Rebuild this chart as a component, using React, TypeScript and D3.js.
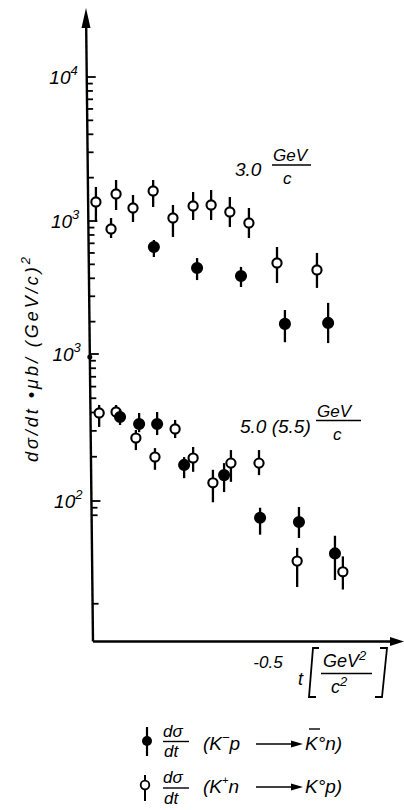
import React from 'react';
import * as d3 from 'd3';

const W = 404;
const H = 810;

// 3.0 GeV/c, read against the upper decade labels (10^4, 10^3)
// K- p -> K0bar n (filled)
const kmp30 = [
  { t: -0.183, v: 660, lo: 562, hi: 738 },
  { t: -0.303, v: 472, lo: 389, hi: 553 },
  { t: -0.425, v: 415, lo: 348, hi: 480 },
  { t: -0.547, v: 193, lo: 144, hi: 241 },
  { t: -0.667, v: 196, lo: 142, hi: 270 },
];
// K+ n -> K0 p (open)
const kpn30 = [
  { t: -0.022, v: 1355, lo: 984, hi: 1722 },
  { t: -0.064, v: 880, lo: 762, hi: 1049 },
  { t: -0.078, v: 1540, lo: 1192, hi: 1927 },
  { t: -0.125, v: 1231, lo: 984, hi: 1516 },
  { t: -0.181, v: 1616, lo: 1251, hi: 1927 },
  { t: -0.236, v: 1049, lo: 774, hi: 1292 },
  { t: -0.292, v: 1271, lo: 1016, hi: 1590 },
  { t: -0.342, v: 1292, lo: 1016, hi: 1642 },
  { t: -0.394, v: 1155, lo: 908, hi: 1468 },
  { t: -0.447, v: 969, lo: 762, hi: 1231 },
  { t: -0.525, v: 511, lo: 371, hi: 660 },
  { t: -0.636, v: 457, lo: 343, hi: 600 },
];

// 5.0 (5.5) GeV/c, read against the lower decade labels (10^3, 10^2)
const kmp50 = [
  { t: -0.089, v: 373, lo: 329, hi: 416 },
  { t: -0.142, v: 334, lo: 294, hi: 397 },
  { t: -0.192, v: 334, lo: 281, hi: 403 },
  { t: -0.267, v: 176, lo: 143, hi: 199 },
  { t: -0.378, v: 150, lo: 115, hi: 181 },
  { t: -0.478, v: 77, lo: 59, hi: 90 },
  { t: -0.586, v: 72, lo: 56, hi: 91 },
  { t: -0.686, v: 44, lo: 29, hi: 58 },
];
const kpn50 = [
  { t: -0.031, v: 397, lo: 319, hi: 450 },
  { t: -0.078, v: 403, lo: 356, hi: 450 },
  { t: -0.133, v: 268, lo: 222, hi: 304 },
  { t: -0.186, v: 199, lo: 163, hi: 229 },
  { t: -0.242, v: 309, lo: 268, hi: 356 },
  { t: -0.292, v: 196, lo: 158, hi: 233 },
  { t: -0.347, v: 133, lo: 98, hi: 163 },
  { t: -0.397, v: 181, lo: 135, hi: 222 },
  { t: -0.475, v: 181, lo: 150, hi: 222 },
  { t: -0.581, v: 39, lo: 26, hi: 48 },
  { t: -0.708, v: 33, lo: 25, hi: 42 },
];

const upperTicks = [10000, 9000, 8000, 7000, 6000, 5000, 4000, 3000, 2000, 1000, 900, 800, 700, 600, 500, 400, 300, 200];
const lowerTicks = [1000, 900, 800, 700, 600, 500, 400, 300, 200, 100, 90, 80, 20];
const upperLabels = [{ v: 1e4, exp: '4' }, { v: 1e3, exp: '3' }];
const lowerLabels = [{ v: 1e3, exp: '3' }, { v: 1e2, exp: '2' }];
const xLabels = [-0.5];

const FONT = "'Liberation Sans', Arial, sans-serif";

export default function App() {
  const x = d3.scaleLinear().domain([0, -0.5]).range([88, 268]);
  const yUp = d3.scaleLog().domain([1e3, 1e4]).range([221, 77]);
  const yLo = d3.scaleLog().domain([1e2, 1e3]).range([501, 354]);
  // the scanned axis leans a little
  const axisX = d3.scaleLinear().domain([10, 642]).range([86, 93]);
  const xAxisY = 641.5;

  const isMajor = (v: number) => Math.abs(Math.log10(v) - Math.round(Math.log10(v))) < 1e-9;

  const tickLines = (ticks: number[], y: d3.ScaleLogarithmic<number, number>, key: string) =>
    ticks.map((v, i) => {
      const yy = y(v);
      const x0 = axisX(yy);
      return <line key={key + i} x1={x0} x2={x0 + (isMajor(v) ? 9 : 6)} y1={yy} y2={yy} stroke="#000" strokeWidth={1.8} />;
    });

  const tickLabels = (labels: { v: number; exp: string }[], y: d3.ScaleLogarithmic<number, number>, key: string) =>
    labels.map((d, i) => (
      <text key={key + i} x={axisX(y(d.v)) - 9} y={y(d.v) + 7} textAnchor="end" fontSize={19} fontStyle="italic">
        10<tspan fontSize={13} dy={-9}>{d.exp}</tspan>
      </text>
    ));

  const marks = (data: typeof kmp30, y: d3.ScaleLogarithmic<number, number>, filled: boolean, key: string) =>
    data.map((d, i) => (
      <g key={key + i}>
        <line x1={x(d.t)} x2={x(d.t)} y1={y(d.hi)} y2={y(d.lo)} stroke="#000" strokeWidth={2.3} />
        <circle cx={x(d.t)} cy={y(d.v)} r={filled ? 5 : 4.6} fill={filled ? '#000' : '#fff'} stroke="#000" strokeWidth={2.1} />
      </g>
    ));

  const legendArrow = (x1: number, x2: number, yy: number) => (
    <g>
      <line x1={x1} x2={x2 - 8} y1={yy} y2={yy} stroke="#000" strokeWidth={1.6} />
      <polygon points={`${x2},${yy} ${x2 - 12},${yy - 3.5} ${x2 - 12},${yy + 3.5}`} fill="#000" />
    </g>
  );

  return (
    <svg width={W} height={H} style={{ position: 'absolute', left: 0, top: 0, background: '#fff' }} fontFamily={FONT}>
      {/* y axis */}
      <line x1={axisX(24)} y1={24} x2={axisX(xAxisY)} y2={xAxisY} stroke="#000" strokeWidth={2.4} />
      <polygon points={`86,8 81.5,28 90.5,28`} fill="#000" />
      {tickLines(upperTicks, yUp, 'ut')}
      {tickLines(lowerTicks, yLo, 'lt')}
      <circle cx={axisX(yLo(1000))} cy={yLo(1000) + 3} r={2.5} fill="#000" />
      {tickLabels(upperLabels, yUp, 'ul')}
      {tickLabels(lowerLabels, yLo, 'll')}

      {/* x axis */}
      <line x1={axisX(xAxisY)} y1={xAxisY} x2={392} y2={xAxisY} stroke="#000" strokeWidth={2.4} />
      <polygon points={`404,${xAxisY} 390,${xAxisY - 4.5} 390,${xAxisY + 4.5}`} fill="#000" />
      {xLabels.map((v, i) => (
        <text key={'xl' + i} x={x(v)} y={668} textAnchor="middle" fontSize={17} fontStyle="italic">
          {v.toFixed(1)}
        </text>
      ))}

      {/* x title: t [GeV^2 / c^2] */}
      <text x={298} y={685} fontSize={18} fontStyle="italic">t</text>
      <path d="M319,648 L313,648 L309,697 L316,697" fill="none" stroke="#000" strokeWidth={1.8} />
      <path d="M380,648 L387,648 L382,697 L375,697" fill="none" stroke="#000" strokeWidth={1.8} />
      <text x={323} y={667} fontSize={18} fontStyle="italic">
        GeV<tspan fontSize={13} dy={-7}>2</tspan>
      </text>
      <line x1={321} x2={372} y1={673.5} y2={673.5} stroke="#000" strokeWidth={1.6} />
      <text x={331} y={693} fontSize={18} fontStyle="italic">
        c<tspan fontSize={13} dy={-7}>2</tspan>
      </text>

      {/* y title */}
      <text transform="translate(38,462) rotate(-90)" fontSize={18} fontStyle="italic" textLength={205} lengthAdjust="spacing">
        dσ/dt •μb/ (GeV/c)<tspan fontSize={13} dy={-8}>2</tspan>
      </text>

      {/* data */}
      {marks(kpn30, yUp, false, 'a')}
      {marks(kmp30, yUp, true, 'b')}
      {marks(kpn50, yLo, false, 'c')}
      {marks(kmp50, yLo, true, 'd')}

      {/* momentum annotations */}
      <text x={235} y={176} fontSize={19} fontStyle="italic">3.0</text>
      <text x={273} y={161} fontSize={17} fontStyle="italic">GeV</text>
      <line x1={272} x2={311} y1={165} y2={165} stroke="#000" strokeWidth={1.5} />
      <text x={283} y={184} fontSize={17} fontStyle="italic">c</text>

      <text x={240} y={433} fontSize={19} fontStyle="italic">5.0 (5.5)</text>
      <text x={317} y={417} fontSize={17} fontStyle="italic">GeV</text>
      <line x1={316} x2={361} y1={420.5} y2={420.5} stroke="#000" strokeWidth={1.5} />
      <text x={333} y={440} fontSize={17} fontStyle="italic">c</text>

      {/* legend */}
      <line x1={147} x2={147} y1={727} y2={756} stroke="#000" strokeWidth={2.2} />
      <circle cx={147} cy={741} r={5} fill="#000" />
      <text x={163} y={737} fontSize={17} fontStyle="italic">dσ</text>
      <line x1={163} x2={189} y1={741.5} y2={741.5} stroke="#000" strokeWidth={1.4} />
      <text x={164} y={757} fontSize={17} fontStyle="italic">dt</text>
      <text x={203} y={750} fontSize={19} fontStyle="italic">
        (K<tspan fontSize={13} dy={-8}>−</tspan><tspan dy={8}>p</tspan>
      </text>
      {legendArrow(256, 303, 744)}
      <line x1={309} x2={320} y1={729} y2={729} stroke="#000" strokeWidth={1.4} />
      <text x={305} y={750} fontSize={19} fontStyle="italic">K°n)</text>

      <line x1={145} x2={145} y1={775} y2={801} stroke="#000" strokeWidth={2} />
      <circle cx={145} cy={785} r={4.3} fill="#fff" stroke="#000" strokeWidth={1.8} />
      <text x={163} y={783} fontSize={17} fontStyle="italic">dσ</text>
      <line x1={163} x2={189} y1={788} y2={788} stroke="#000" strokeWidth={1.4} />
      <text x={164} y={804} fontSize={17} fontStyle="italic">dt</text>
      <text x={203} y={793} fontSize={19} fontStyle="italic">
        (K<tspan fontSize={11} dy={-9}>+</tspan><tspan dy={9}>n</tspan>
      </text>
      {legendArrow(256, 303, 787)}
      <text x={305} y={793} fontSize={19} fontStyle="italic">K°p)</text>
    </svg>
  );
}
